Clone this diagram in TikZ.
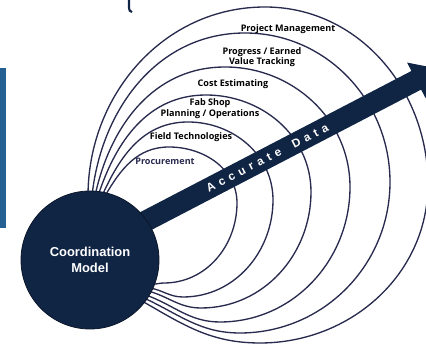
\documentclass[tikz,border=0pt]{standalone}
\usepackage{fontspec}
\setmainfont{Liberation Sans}
\newfontfamily\labelfont{Open Sans}
\newfontfamily\spacedfont[LetterSpace=40]{Liberation Sans}
\definecolor{navy}{RGB}{16,36,68}
\definecolor{loopcol}{RGB}{40,42,78}
\definecolor{barblue}{RGB}{36,96,146}
\begin{document}
\begin{tikzpicture}[x=0.75pt, y=0.75pt]
    \tikzstyle{loopline} = [draw=loopcol, line width=1pt]
    \tikzstyle{usecase} = [font=\labelfont\bfseries\fontsize{6.8}{8}\selectfont, text=black, align=center, inner sep=0pt]
    \useasboundingbox (0,0) rectangle (426,346);
    \clip (0,0) rectangle (426,346);

    \fill[barblue] (0,118) rectangle (6,278);
    \draw[navy, line width=1.6pt] (129,346) -- (129,338) to[out=-90,in=180] (132,334);

    \draw[loopline] (105,150) to[out=60,in=180] (169,199) to[out=0,in=90] (237,143) to[out=-90,in=0] (164,63) to[out=180,in=-5] (152,62);
    \draw[loopline] (102,150) to[out=66,in=180] (188,224) to[out=0,in=90] (273,146) to[out=-90,in=0] (183,49) to[out=180,in=-10] (150,58);
    \draw[loopline] (98,150) to[out=72,in=180] (206,251) to[out=0,in=90] (311,154) to[out=-90,in=0] (201,38) to[out=180,in=-15] (148,55);
    \draw[loopline] (95,150) to[out=78,in=180] (225,279) to[out=0,in=90] (350,159) to[out=-90,in=0] (220,24) to[out=180,in=-20] (146,51);
    \draw[loopline] (92,150) to[out=84,in=180] (245,313) to[out=0,in=90] (390,164) to[out=-90,in=0] (240,13) to[out=180,in=-25] (144,48);
    \draw[loopline] (88,150) to[out=90,in=180] (265,339) to[out=0,in=90] (428,162) to[out=-90,in=0] (260,3) to[out=180,in=-30] (142,45);

    \begin{scope}[shift={(340,226)}, rotate=27.5]
        \fill[navy] (-235,-10.5) -- (86,-10.5) -- (86,-20) -- (111,0) -- (86,20) -- (86,10.5) -- (-235,10.5) -- cycle;
        \node (data) [transform shape, text=white, font=\spacedfont\bfseries\fontsize{8.8}{10}\selectfont] at (-82,0) {Accurate\hspace{4pt} Data};
    \end{scope}

    \node (model) [circle, fill=navy, draw=navy!60!black, line width=0.6pt, minimum size=103.5pt, text=white, align=center, font=\bfseries\fontsize{9.7}{12}\selectfont] at (90,86) {Coordination\\Model};

    \node (pm) [usecase] at (288,317) {Project Management};
    \node (evt) [usecase] at (262,289) {Progress / Earned\\Value Tracking};
    \node (cost) [usecase] at (233,262) {Cost Estimating};
    \node (fab) [usecase] at (210,237.5) {Fab Shop\\Planning / Operations};
    \node (field) [usecase] at (191,209) {Field Technologies};
    \node (proc) [usecase, text=loopcol] at (165,185) {Procurement};
\end{tikzpicture}
\end{document}
